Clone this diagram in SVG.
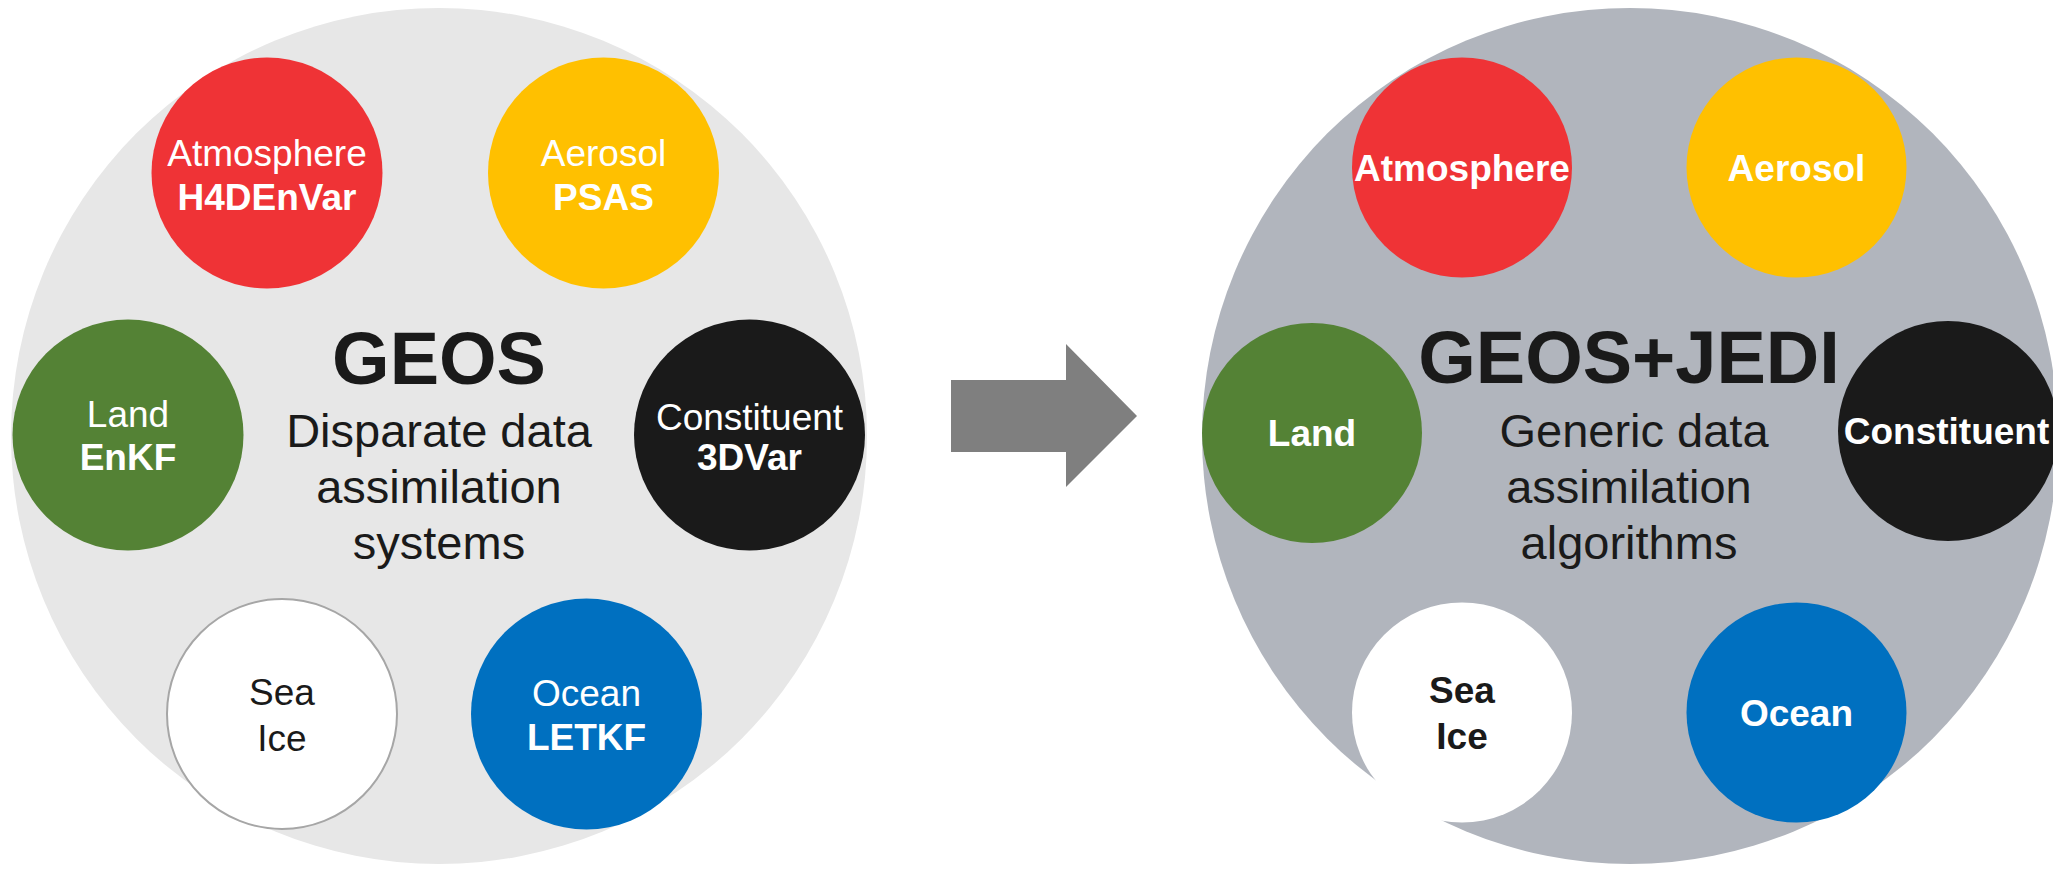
<svg xmlns="http://www.w3.org/2000/svg" width="2053" height="876" viewBox="0 0 2053 876">
<style>
text{font-family:"Liberation Sans",Arial,sans-serif;text-anchor:middle}
.r{font-size:37px}
.b{font-size:37px;font-weight:bold}
.w{fill:#ffffff}
.k{fill:#1a1a1a}
.title{font-size:74px;font-weight:bold;fill:#1a1a1a}
.sub{font-size:47px;fill:#1a1a1a}
</style>
<rect width="2053" height="876" fill="#ffffff"/>
<g id="geos">
<circle cx="439" cy="436" r="428" fill="#e7e7e7"/>
<text class="title" x="439" y="384">GEOS</text>
<text class="sub" x="439" y="447">Disparate data</text>
<text class="sub" x="439" y="503">assimilation</text>
<text class="sub" x="439" y="559">systems</text>
</g>
<g id="l-atmosphere">
<circle cx="267" cy="173" r="115.5" fill="#ef3336"/>
<text class="r w" x="267" y="166">Atmosphere</text>
<text class="b w" x="267" y="210">H4DEnVar</text>
</g>
<g id="l-aerosol">
<circle cx="603.5" cy="173" r="115.5" fill="#ffc000"/>
<text class="r w" x="603.5" y="166">Aerosol</text>
<text class="b w" x="603.5" y="210">PSAS</text>
</g>
<g id="l-land">
<circle cx="128" cy="435" r="115.5" fill="#548235"/>
<text class="r w" x="128" y="427">Land</text>
<text class="b w" x="128" y="470">EnKF</text>
</g>
<g id="l-constituent">
<circle cx="749.5" cy="435" r="115.5" fill="#1a1a1a"/>
<text class="r w" x="749.5" y="430">Constituent</text>
<text class="b w" x="749.5" y="470">3DVar</text>
</g>
<g id="l-seaice">
<circle cx="282" cy="714" r="115" fill="#ffffff" stroke="#a6a6a6" stroke-width="2"/>
<text class="r k" x="282" y="705">Sea</text>
<text class="r k" x="282" y="751">Ice</text>
</g>
<g id="l-ocean">
<circle cx="586.5" cy="714" r="115.5" fill="#0070c0"/>
<text class="r w" x="586.5" y="706">Ocean</text>
<text class="b w" x="586.5" y="750">LETKF</text>
</g>
<g id="connectors">
<polygon points="951,380 1066,380 1066,344 1137,416 1066,487 1066,452 951,452" fill="#7f7f7f"/>
</g>
<g id="geosjedi">
<circle cx="1630" cy="436" r="428" fill="#b1b5bd"/>
<text class="title" x="1629" y="383">GEOS+JEDI</text>
<text class="sub" x="1634" y="447">Generic data</text>
<text class="sub" x="1629" y="503">assimilation</text>
<text class="sub" x="1629" y="559">algorithms</text>
</g>
<g id="r-atmosphere">
<circle cx="1462" cy="167.5" r="110" fill="#ef3336"/>
<text class="b w" x="1462" y="181">Atmosphere</text>
</g>
<g id="r-aerosol">
<circle cx="1796.5" cy="167.5" r="110" fill="#ffc000"/>
<text class="b w" x="1796.5" y="181">Aerosol</text>
</g>
<g id="r-land">
<circle cx="1312" cy="433" r="110" fill="#548235"/>
<text class="b w" x="1312" y="446">Land</text>
</g>
<g id="r-constituent">
<circle cx="1948" cy="431" r="110" fill="#1a1a1a"/>
<text class="b w" x="1946.5" y="444">Constituent</text>
</g>
<g id="r-seaice">
<circle cx="1462" cy="712.5" r="110" fill="#ffffff"/>
<text class="b k" x="1462" y="703">Sea</text>
<text class="b k" x="1462" y="749">Ice</text>
</g>
<g id="r-ocean">
<circle cx="1796.5" cy="712.5" r="110" fill="#0070c0"/>
<text class="b w" x="1796.5" y="726">Ocean</text>
</g>
</svg>
